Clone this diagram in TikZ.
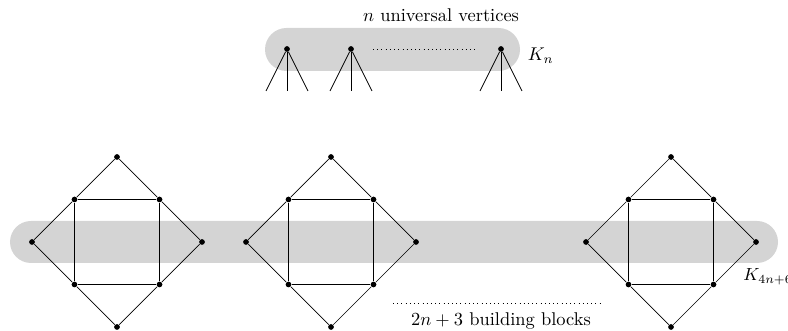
\documentclass[tikz,border=0pt]{standalone}
\usepackage{tikz}
\usetikzlibrary{calc,positioning}
\usepackage{amsmath}
\usepackage{xcolor}
\definecolor{bandgray}{RGB}{212,212,212}

\begin{document}
\begin{tikzpicture}[
  vtx/.style={circle, fill=black, inner sep=1.15pt},
  band/.style={fill=bandgray},
  lbl/.style={inner sep=0pt, scale=1.05}
]
\useasboundingbox (0,0) rectangle (15.76,6.62);
% gray bands
\fill[band, rounded corners=0.42cm] (0.2,1.36) rectangle (15.56,2.2);
\fill[band, rounded corners=0.43cm] (5.3,5.2) rectangle (10.4,6.06);
% universal vertices
\foreach \n/\x in {u1/5.74, u2/7.02, u3/10.02} {
  \node[vtx] (\n) at (\x,5.64) {};
  \coordinate (\n-l) at ({\x-0.42},4.8);
  \coordinate (\n-m) at (\x,4.8);
  \coordinate (\n-r) at ({\x+0.42},4.8);
  \draw (\n) -- (\n-l);
  \draw (\n) -- (\n-m);
  \draw (\n) -- (\n-r);
}
\coordinate (udots-a) at (7.46,5.64);
\coordinate (udots-b) at (9.52,5.64);
\draw[dotted] (udots-a) -- (udots-b);
\node[lbl] (utext) at (8.82,6.32) {$n$ universal vertices};
\node[lbl, anchor=west] (kn) at (10.55,5.5) {$K_n$};
% building blocks
\foreach \b/\cx in {1/2.34, 2/6.62, 3/13.42} {
  \node[vtx] (b\b-t) at (\cx,3.48) {};
  \node[vtx] (b\b-b) at (\cx,0.08) {};
  \node[vtx] (b\b-l) at ({\cx-1.7},1.78) {};
  \node[vtx] (b\b-r) at ({\cx+1.7},1.78) {};
  \node[vtx] (b\b-tl) at ({\cx-0.85},2.63) {};
  \node[vtx] (b\b-tr) at ({\cx+0.85},2.63) {};
  \node[vtx] (b\b-bl) at ({\cx-0.85},0.93) {};
  \node[vtx] (b\b-br) at ({\cx+0.85},0.93) {};
  \draw (b\b-t) -- (b\b-tl) -- (b\b-l) -- (b\b-bl) -- (b\b-b) -- (b\b-br) -- (b\b-r) -- (b\b-tr) -- (b\b-t);
  \draw (b\b-tl) -- (b\b-tr) -- (b\b-br) -- (b\b-bl) -- (b\b-tl);
}
\coordinate (bdots-a) at (7.86,0.56);
\coordinate (bdots-b) at (12.06,0.56);
\draw[dotted] (bdots-a) -- (bdots-b);
\node[lbl] (btext) at (10.02,0.2) {$2n+3$ building blocks};
\node[inner sep=0pt, anchor=west] (kbig) at (14.86,1.08) {$K_{4n+6}$};
\end{tikzpicture}
\end{document}
